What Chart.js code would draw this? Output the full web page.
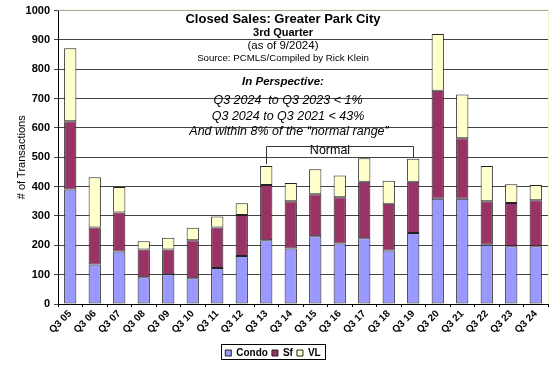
<!DOCTYPE html>
<html>
<head>
<meta charset="utf-8">
<style>
  html, body { margin: 0; padding: 0; background: #fff; }
  canvas { display: block; }
</style>
</head>
<body>
<canvas id="salesChart" width="560" height="371"></canvas>

<script src="https://cdn.jsdelivr.net/npm/chart.js"></script>
<script>
    const quarters = ["Q3 05", "Q3 06", "Q3 07", "Q3 08", "Q3 09", "Q3 10", "Q3 11", "Q3 12", "Q3 13", "Q3 14",
        "Q3 15", "Q3 16", "Q3 17", "Q3 18", "Q3 19", "Q3 20", "Q3 21", "Q3 22", "Q3 23", "Q3 24"];
    const condo = [390, 135, 179, 91, 101, 88, 123, 164, 217, 189, 231, 206, 224, 182, 242, 359, 359, 202, 197, 197];
    const sf = [233, 126, 133, 95, 85, 129, 138, 139, 189, 161, 143, 158, 193, 160, 175, 368, 206, 148, 147, 157];
    const vl = [249, 171, 87, 28, 40, 43, 37, 40, 64, 62, 85, 74, 80, 78, 78, 193, 149, 120, 64, 52];
    const yTicks = [0, 100, 200, 300, 400, 500, 600, 700, 800, 900, 1000];

    const FONT = "Arial, 'Liberation Sans', sans-serif";
    const totals = quarters.map((q, i) => condo[i] + sf[i] + vl[i]);
    const normalFrom = quarters.indexOf("Q3 13"), normalTo = quarters.indexOf("Q3 19");

    // title block + "In Perspective" notes + normal range bracket
    const notesPlugin = {
        id: "notes",
        afterDatasetsDraw(chart) {
            const ctx = chart.ctx, x = chart.scales.x, y = chart.scales.y;
            ctx.save();
            ctx.fillStyle = "#000";
            ctx.textAlign = "center";
            ctx.textBaseline = "middle";
            const lines = [
                ["bold 13px " + FONT, "Closed Sales: Greater Park City", 283, 19],
                ["bold 11px " + FONT, "3rd Quarter", 283, 33],
                ["11.5px " + FONT, "(as of 9/2024)", 283, 45.5],
                ["9.7px " + FONT, "Source: PCMLS/Compiled by Rick Klein", 283, 58.5],
                ["italic bold 11.5px " + FONT, "In Perspective:", 283, 82],
                ["italic 12.5px " + FONT, "Q3 2024  to Q3 2023 < 1%", 288, 101],
                ["italic 12.5px " + FONT, "Q3 2024 to Q3 2021 < 43%", 288, 117],
                ["italic 12.5px " + FONT, "And within 8% of the \u201cnormal range\u201d", 289, 132],
                ["12.5px " + FONT, "Normal", 330, 151]
            ];
            lines.forEach(([f, t, tx, ty]) => { ctx.font = f; ctx.fillText(t, tx, ty); });

            const x1 = Math.round(x.getPixelForValue(normalFrom)) + 0.5;
            const x2 = Math.round(x.getPixelForValue(normalTo)) + 0.5;
            const yl = Math.round(y.getPixelForValue(540)) + 0.5;
            ctx.strokeStyle = "#333";
            ctx.lineWidth = 1;
            ctx.beginPath();
            ctx.moveTo(x1, y.getPixelForValue(totals[normalFrom]) - 2);
            ctx.lineTo(x1, yl);
            ctx.lineTo(x2, yl);
            ctx.lineTo(x2, y.getPixelForValue(totals[normalTo]) - 1);
            ctx.stroke();
            ctx.restore();
        },
        afterLayout(chart) {
            const lg = chart.legend;
            lg.left = 221; lg.right = 325; lg.width = 104;
            lg.top = 344; lg.bottom = 359; lg.height = 15;
        },
        afterDraw(chart) {
            const ctx = chart.ctx, lg = chart.legend, a = chart.chartArea;
            ctx.save();
            ctx.strokeStyle = "#000";
            ctx.lineWidth = 1;
            ctx.strokeRect(lg.left + 0.5, lg.top + 0.5, lg.width, lg.height);
            ctx.strokeStyle = "#f2efc4";
            ctx.beginPath();
            ctx.moveTo(a.left, a.top - 0.5);
            ctx.lineTo(a.right + 0.5, a.top - 0.5);
            ctx.lineTo(a.right + 0.5, a.bottom);
            ctx.stroke();
            ctx.restore();
        }
    };

    const ds = (label, data, color) => ({
        label, data, backgroundColor: color, borderColor: "#222", borderWidth: 1,
        borderSkipped: false, barPercentage: 0.5, categoryPercentage: 1
    });

    new Chart(document.getElementById("salesChart"), {
        type: "bar",
        data: {
            labels: quarters,
            datasets: [ds("Condo", condo, "#9999ff"), ds("Sf", sf, "#993366"), ds("VL", vl, "#ffffcc")]
        },
        options: {
            responsive: false,
            animation: false,
            devicePixelRatio: 1,
            layout: { padding: { top: 8, right: 12, left: 0, bottom: 0 } },
            plugins: {
                tooltip: { enabled: false },
                legend: {
                    position: "bottom",
                    labels: { color: "#000", font: { family: FONT, size: 10, weight: "bold" }, boxWidth: 6, boxHeight: 6, padding: 4 }
                }
            },
            scales: {
                x: {
                    stacked: true,
                    afterFit: s => { s.height = 67 - s.chart.legend.height; },
                    grid: { display: true, drawOnChartArea: false, offset: true, tickLength: 3, color: "#000" },
                    border: { color: "#000" },
                    ticks: { color: "#000", autoSkip: false, minRotation: 45, maxRotation: 45, padding: 1, font: { family: FONT, size: 10, weight: "bold" } }
                },
                y: {
                    stacked: true,
                    min: 0, max: 1000,
                    afterFit: s => { s.width = 58; },
                    afterBuildTicks: s => { s.ticks = yTicks.map(v => ({ value: v })); },
                    grid: { color: "#444", tickLength: 4, drawTicks: true },
                    border: { color: "#000" },
                    ticks: { color: "#000", padding: 4, callback: v => String(v), font: { family: FONT, size: 11, weight: "bold" } },
                    title: { display: true, text: "# of Transactions", color: "#000", padding: { top: 15, bottom: 0 }, font: { family: FONT, size: 11 } }
                }
            }
        },
        plugins: [notesPlugin]
    });
</script>
</body>
</html>
